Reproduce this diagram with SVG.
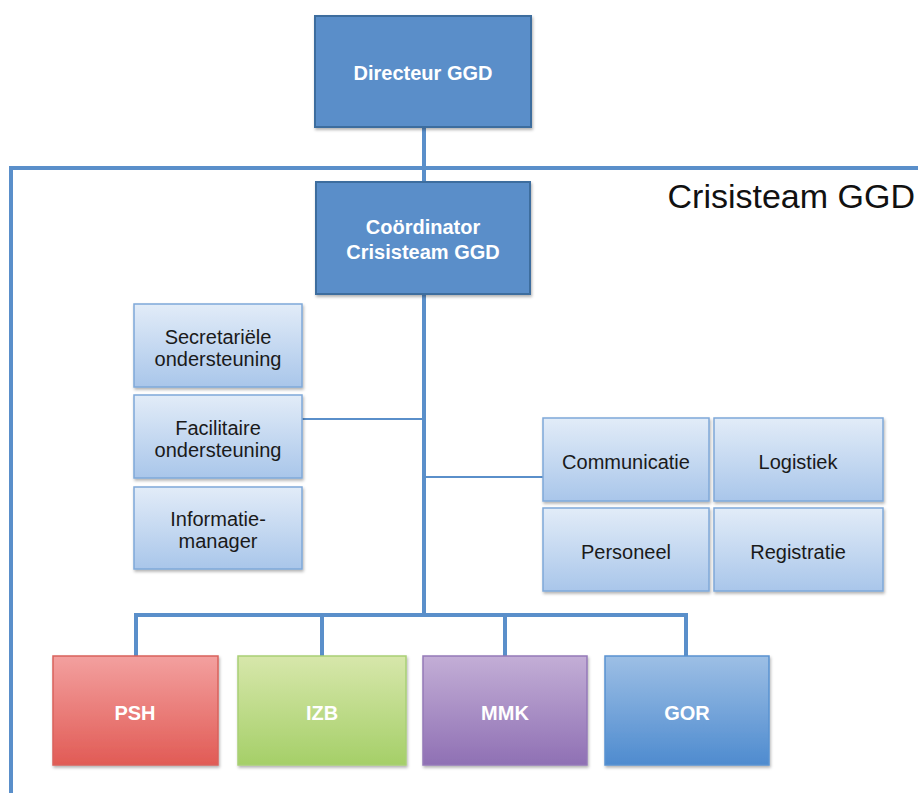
<svg xmlns="http://www.w3.org/2000/svg" width="918" height="793" viewBox="0 0 918 793">
<defs>
<linearGradient id="gLight" x1="0" y1="0" x2="0" y2="1"><stop offset="0" stop-color="#e2ecf8"/><stop offset="1" stop-color="#a9c6ea"/></linearGradient>
<linearGradient id="gRed" x1="0" y1="0" x2="0" y2="1"><stop offset="0" stop-color="#f3a09f"/><stop offset="1" stop-color="#e15b55"/></linearGradient>
<linearGradient id="gGreen" x1="0" y1="0" x2="0" y2="1"><stop offset="0" stop-color="#d7e7ab"/><stop offset="1" stop-color="#a5cf68"/></linearGradient>
<linearGradient id="gPurple" x1="0" y1="0" x2="0" y2="1"><stop offset="0" stop-color="#c3aed6"/><stop offset="1" stop-color="#8f70b4"/></linearGradient>
<linearGradient id="gBlue" x1="0" y1="0" x2="0" y2="1"><stop offset="0" stop-color="#9dbfe5"/><stop offset="1" stop-color="#4e8bcf"/></linearGradient>
<filter id="sh" x="-10%" y="-10%" width="130%" height="130%"><feDropShadow dx="1" dy="2" stdDeviation="1.5" flood-color="#000" flood-opacity="0.3"/></filter>
</defs>
<style>
.dark{fill:#5a8ec9;stroke:#3e6d9e;stroke-width:2;filter:url(#sh)}
.light{fill:url(#gLight);stroke:#7fa8d9;stroke-width:1.5;filter:url(#sh)}
.col{stroke-width:1.5;filter:url(#sh)}
.tw{font-family:"Liberation Sans",Arial,sans-serif;fill:#fff;font-size:20px;font-weight:bold;text-anchor:middle}
.tb{font-family:"Liberation Sans",Arial,sans-serif;fill:#1a1a1a;font-size:20px;text-anchor:middle}
.thick{stroke:#5a8fca;stroke-width:4;fill:none}
.thin{stroke:#5a8fca;stroke-width:2;fill:none}
</style>
<rect width="918" height="793" fill="#fff"/>
<g id="connectors">
<polyline class="thick" points="11,793 11,168 918,168"/>
<line class="thick" x1="424" y1="127" x2="424" y2="182"/>
<line class="thick" x1="424" y1="294" x2="424" y2="615"/>
<line class="thin" x1="302" y1="419" x2="424" y2="419"/>
<line class="thin" x1="424" y1="477" x2="543" y2="477"/>
<polyline class="thick" points="136,656 136,615 686,615 686,656"/>
<line class="thick" x1="322" y1="615" x2="322" y2="656"/>
<line class="thick" x1="505" y1="615" x2="505" y2="656"/>
</g>
<text x="915" y="208" font-family="Liberation Sans,Arial,sans-serif" font-size="34" fill="#111" text-anchor="end">Crisisteam GGD</text>
<g id="directeur"><rect class="dark" x="315" y="16" width="216" height="111"/><text class="tw" x="423" y="80">Directeur GGD</text></g>
<g id="coordinator"><rect class="dark" x="316" y="182" width="214" height="112"/><text class="tw" x="423" y="234">Coördinator</text><text class="tw" x="423" y="259">Crisisteam GGD</text></g>
<g id="secretariele"><rect class="light" x="134" y="304" width="168" height="83"/><text class="tb" x="218" y="344">Secretariële</text><text class="tb" x="218" y="366">ondersteuning</text></g>
<g id="facilitaire"><rect class="light" x="134" y="395" width="168" height="83"/><text class="tb" x="218" y="435">Facilitaire</text><text class="tb" x="218" y="457">ondersteuning</text></g>
<g id="informatiemanager"><rect class="light" x="134" y="487" width="168" height="82"/><text class="tb" x="218" y="526">Informatie-</text><text class="tb" x="218" y="548">manager</text></g>
<g id="communicatie"><rect class="light" x="543" y="418" width="166" height="83"/><text class="tb" x="626" y="469">Communicatie</text></g>
<g id="logistiek"><rect class="light" x="714" y="418" width="169" height="83"/><text class="tb" x="798" y="469">Logistiek</text></g>
<g id="personeel"><rect class="light" x="543" y="508" width="166" height="83"/><text class="tb" x="626" y="559">Personeel</text></g>
<g id="registratie"><rect class="light" x="714" y="508" width="169" height="83"/><text class="tb" x="798" y="559">Registratie</text></g>
<g id="psh"><rect class="col" x="53" y="656" width="165" height="109" fill="url(#gRed)" stroke="#d9625c"/><text class="tw" x="135" y="720">PSH</text></g>
<g id="izb"><rect class="col" x="238" y="656" width="168" height="109" fill="url(#gGreen)" stroke="#a9cf76"/><text class="tw" x="322" y="720">IZB</text></g>
<g id="mmk"><rect class="col" x="423" y="656" width="164" height="109" fill="url(#gPurple)" stroke="#9579b8"/><text class="tw" x="505" y="720">MMK</text></g>
<g id="gor"><rect class="col" x="605" y="656" width="164" height="109" fill="url(#gBlue)" stroke="#5a93d1"/><text class="tw" x="687" y="720">GOR</text></g>
</svg>
